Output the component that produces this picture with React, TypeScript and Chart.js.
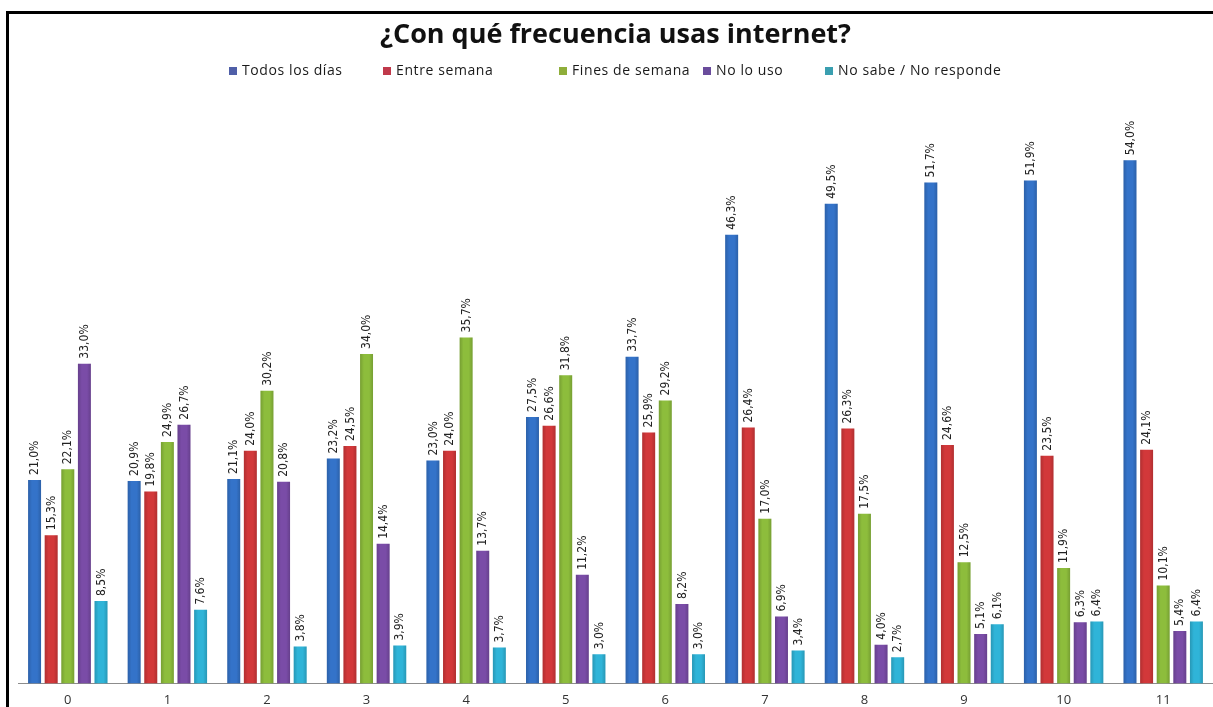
import React, { useEffect, useRef } from "react";
import { Chart, registerables } from "chart.js";

Chart.register(...registerables);

const CATEGORIES = ["0", "1", "2", "3", "4", "5", "6", "7", "8", "9", "10", "11"];
const SERIES_NAMES = ["Todos los días", "Entre semana", "Fines de semana", "No lo uso", "No sabe / No responde"];
const TODOS_LOS_DIAS = [21.0, 20.9, 21.1, 23.2, 23.0, 27.5, 33.7, 46.3, 49.5, 51.7, 51.9, 54.0];
const ENTRE_SEMANA = [15.3, 19.8, 24.0, 24.5, 24.0, 26.6, 25.9, 26.4, 26.3, 24.6, 23.5, 24.1];
const FINES_DE_SEMANA = [22.1, 24.9, 30.2, 34.0, 35.7, 31.8, 29.2, 17.0, 17.5, 12.5, 11.9, 10.1];
const NO_LO_USO = [33.0, 26.7, 20.8, 14.4, 13.7, 11.2, 8.2, 6.9, 4.0, 5.1, 6.3, 5.4];
const NS_NR = [8.5, 7.6, 3.8, 3.9, 3.7, 3.0, 3.0, 3.4, 2.7, 6.1, 6.4, 6.4];

const COLORS = ["#3473c9", "#d2383a", "#8dbd3c", "#7a4ca7", "#2fb4d8"];
const LEGEND_COLORS = ["#4f5fa8", "#c0394b", "#8fae3a", "#6a4c9c", "#3a9fb0"];
const LEGEND_X = [233, 387, 563, 707, 829];

const fmt = (v: number) => v.toFixed(1).replace(".", ",") + "%";

const framePlugin = {
  id: "frame",
  beforeDraw(chart: any) {
    const { ctx, width, height } = chart;
    ctx.save();
    ctx.fillStyle = "#ffffff";
    ctx.fillRect(0, 0, width, height);
    ctx.restore();
  },
  afterDraw(chart: any) {
    const { ctx, width, height } = chart;
    ctx.save();
    ctx.strokeStyle = "#000000";
    ctx.lineWidth = 3;
    ctx.beginPath();
    ctx.moveTo(7.5, height);
    ctx.lineTo(7.5, 12.5);
    ctx.lineTo(width, 12.5);
    ctx.stroke();
    ctx.restore();
  },
};

const shadePlugin = {
  id: "shade",
  afterDatasetsDraw(chart: any) {
    const { ctx } = chart;
    ctx.save();
    chart.data.datasets.forEach((ds: any, i: number) => {
      const meta = chart.getDatasetMeta(i);
      meta.data.forEach((el: any) => {
        const w = el.width;
        const x0 = el.x - w / 2;
        const g = ctx.createLinearGradient(x0, 0, x0 + w, 0);
        g.addColorStop(0, "rgba(0,0,0,0.16)");
        g.addColorStop(0.3, "rgba(0,0,0,0)");
        g.addColorStop(0.7, "rgba(0,0,0,0)");
        g.addColorStop(1, "rgba(0,0,0,0.16)");
        ctx.fillStyle = g;
        ctx.fillRect(x0, el.y, w, el.base - el.y);
      });
    });
    ctx.restore();
  },
};

const labelPlugin = {
  id: "barLabels",
  afterDatasetsDraw(chart: any) {
    const { ctx } = chart;
    ctx.save();
    ctx.font = '12px "DejaVu Sans Condensed", "DejaVu Sans", sans-serif';
    ctx.fillStyle = "#222222";
    ctx.textAlign = "left";
    ctx.textBaseline = "middle";
    chart.data.datasets.forEach((ds: any, i: number) => {
      const meta = chart.getDatasetMeta(i);
      meta.data.forEach((el: any, j: number) => {
        ctx.save();
        ctx.translate(el.x + 0.5, el.y - 5);
        ctx.rotate(-Math.PI / 2);
        ctx.fillText(fmt(ds.data[j]), 0, 0);
        ctx.restore();
      });
    });
    ctx.restore();
  },
};

const legendPlugin = {
  id: "customLegend",
  afterDraw(chart: any) {
    const { ctx } = chart;
    ctx.save();
    ctx.font = '14px "Open Sans", sans-serif';
    try { (ctx as any).letterSpacing = "0.6px"; } catch (e) {}
    ctx.textBaseline = "middle";
    ctx.textAlign = "left";
    chart.data.datasets.forEach((ds: any, i: number) => {
      const x = LEGEND_X[i];
      const y = 71;
      ctx.fillStyle = LEGEND_COLORS[i];
      ctx.fillRect(x - 4, y - 4, 8, 8);
      ctx.fillStyle = "#1a1a1a";
      ctx.fillText(ds.label, x + 9, y + 0.5);
    });
    ctx.restore();
  },
};

export default function App() {
  const ref = useRef<HTMLCanvasElement | null>(null);
  useEffect(() => {
    if (!ref.current) return;
    const seriesData = [TODOS_LOS_DIAS, ENTRE_SEMANA, FINES_DE_SEMANA, NO_LO_USO, NS_NR];
    const chart = new Chart(ref.current, {
      type: "bar",
      data: {
        labels: CATEGORIES,
        datasets: seriesData.map((d, i) => ({
          label: SERIES_NAMES[i],
          data: d,
          backgroundColor: COLORS[i],
          borderWidth: 0,
          categoryPercentage: 0.834,
          barPercentage: 0.78,
        })),
      },
      options: {
        animation: false,
        responsive: false,
        maintainAspectRatio: false,
        layout: { padding: { left: 18, right: 0, top: 0, bottom: -10 } },
        plugins: {
          legend: { display: false },
          tooltip: { enabled: false },
          title: {
            display: true,
            text: "¿Con qué frecuencia usas internet?",
            color: "#111111",
            font: { family: '"Open Sans", sans-serif', size: 27, weight: "bold" },
            padding: { top: 19, bottom: 50.6 },
          },
        },
        scales: {
          x: {
            grid: { display: false, drawTicks: false, tickLength: 0 },
            border: { display: true, color: "#8c8c8c", width: 1 },
            ticks: {
              color: "#333333",
              font: { family: '"Open Sans", sans-serif', size: 13 },
              padding: 9,
            },
          },
          y: {
            display: false,
            min: 0,
            max: 60,
          },
        },
      },
      plugins: [framePlugin, shadePlugin, labelPlugin, legendPlugin],
    });
    return () => chart.destroy();
  }, []);
  return (
    <div style={{ position: "fixed", left: 0, top: 0, width: 1213, height: 707, background: "#fff" }}>
      <canvas ref={ref} width={1213} height={707} style={{ display: "block" }} />
    </div>
  );
}
